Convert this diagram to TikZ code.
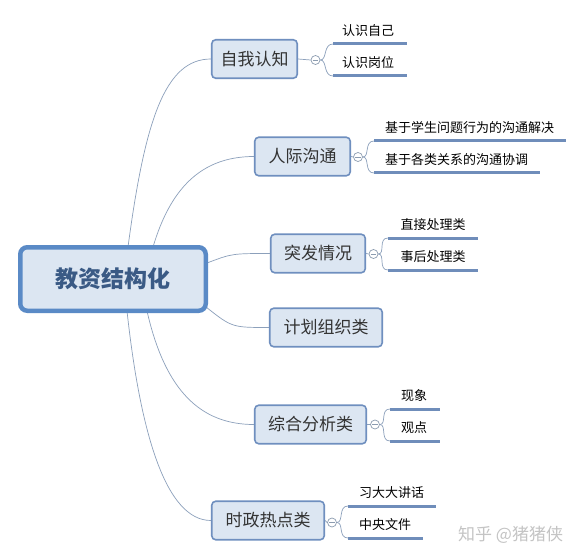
\documentclass[tikz,border=0pt]{standalone}
\usepackage{fontspec}
\setmainfont{Noto Sans CJK SC}
\definecolor{boxfill}{HTML}{DCE6F2}
\definecolor{brb}{HTML}{6F8FBF}
\definecolor{mainb}{HTML}{5A8AC6}
\definecolor{maintext}{HTML}{3A5A85}
\definecolor{ulc}{HTML}{6F8DBA}
\definecolor{connc}{HTML}{8CA0BB}
\definecolor{togc}{HTML}{8C9CB0}
\definecolor{wm}{HTML}{C4C4C4}
\definecolor{txt}{HTML}{333333}
\tikzset{
  mainbox/.style={draw=mainb, line width=4.5pt, fill=boxfill, rounded corners=7pt,
    minimum width=185.5pt, minimum height=63.5pt, inner sep=0pt,
    font=\fontsize{23}{23}\selectfont\bfseries, text=maintext},
  branch/.style={draw=brb, line width=1.6pt, fill=boxfill, rounded corners=4pt,
    minimum height=38.5pt, inner sep=0pt, font=\fontsize{17}{17}\selectfont, text=txt},
  subtext/.style={font=\fontsize{13}{13}\selectfont, text=black, inner sep=0pt},
  ul/.style={draw=ulc, line width=3pt},
  conn/.style={draw=connc, line width=0.7pt},
  tog/.style={circle, draw=togc, fill=white, minimum size=9pt, inner sep=0pt, line width=0.7pt},
  togminus/.style={draw=togc, line width=0.7pt}
}
\begin{document}
\begin{tikzpicture}[x=1pt,y=-1pt]
\useasboundingbox[fill=white] (0,0) rectangle (584,559);

% connector start points on the central box
\coordinate (s1) at (128,247);
\coordinate (s2) at (153,247);
\coordinate (s3) at (207,263);
\coordinate (s4) at (206,307);
\coordinate (s5) at (147,311);
\coordinate (s6) at (127,311);

% branch nodes
\node[branch, minimum width=85.5pt] (b1) at (254.5,59) {自我认知};
\node[branch, minimum width=95.5pt] (b2) at (302.5,156.5) {人际沟通};
\node[branch, minimum width=94.5pt] (b3) at (318,253.5) {突发情况};
\node[branch, minimum width=112.5pt] (b4) at (326,327.5) {计划组织类};
\node[branch, minimum width=111.5pt] (b5) at (310.5,424.5) {综合分析类};
\node[branch, minimum width=112.5pt] (b6) at (268,520.5) {时政热点类};

% main connectors
\draw[conn] (s1) .. controls (145,120) and (165,59) .. (b1.west);
\draw[conn] (s2) .. controls (170,190) and (200,156.5) .. (b2.west);
\draw[conn] (s3) .. controls (232,253.5) .. (b3.west);
\draw[conn] (s4) .. controls (232,327.5) .. (b4.west);
\draw[conn] (s5) .. controls (165,390) and (200,424.5) .. (b5.west);
\draw[conn] (s6) .. controls (140,430) and (165,520.5) .. (b6.west);

% central node
\node[mainbox] (c) at (113,279) {教资结构化};

% toggles
\node[tog] (t1) at (315.5,60) {};
\node[tog] (t2) at (358,157) {};
\node[tog] (t3) at (373.5,254) {};
\node[tog] (t5) at (375,424.5) {};
\node[tog] (t6) at (332,522.5) {};
\foreach \t in {t1,t2,t3,t5,t6}{
  \draw[togminus] ([xshift=-2.6pt]\t.center) -- ([xshift=2.6pt]\t.center);
}
\draw[conn] (b1.east) -- (t1.west);
\draw[conn] (b2.east) -- (t2.west);
\draw[conn] (b3.east) -- (t3.west);
\draw[conn] (b5.east) -- (t5.west);
\draw[conn] (b6.east) -- (t6.west);

% underline coordinates
\coordinate (u1a) at (333,44);   \coordinate (u1ae) at (407,44);
\coordinate (u1b) at (333,76);   \coordinate (u1be) at (407,76);
\coordinate (u2a) at (374,141);  \coordinate (u2ae) at (566,141);
\coordinate (u2b) at (374,173);  \coordinate (u2be) at (540,173);
\coordinate (u3a) at (388,238);  \coordinate (u3ae) at (478,238);
\coordinate (u3b) at (388,270);  \coordinate (u3be) at (478,270);
\coordinate (u5a) at (390,409);  \coordinate (u5ae) at (440,409);
\coordinate (u5b) at (390,441);  \coordinate (u5be) at (440,441);
\coordinate (u6a) at (348,506);  \coordinate (u6ae) at (436,506);
\coordinate (u6b) at (348,538);  \coordinate (u6be) at (423,538);

% bracket connectors
\foreach \t/\a/\b in {t1/u1a/u1b, t2/u2a/u2b, t3/u3a/u3b, t5/u5a/u5b, t6/u6a/u6b}{
  \draw[conn] (\t.east) .. controls ([xshift=7pt]\t.east) and ([xshift=-10pt]\a) .. (\a);
  \draw[conn] (\t.east) .. controls ([xshift=7pt]\t.east) and ([xshift=-10pt]\b) .. (\b);
}

% underlines
\draw[ul] (u1a) -- (u1ae);
\draw[ul] (u1b) -- (u1be);
\draw[ul] (u2a) -- (u2ae);
\draw[ul] (u2b) -- (u2be);
\draw[ul] (u3a) -- (u3ae);
\draw[ul] (u3b) -- (u3be);
\draw[ul] (u5a) -- (u5ae);
\draw[ul] (u5b) -- (u5be);
\draw[ul] (u6a) -- (u6ae);
\draw[ul] (u6b) -- (u6be);

% sub texts
\node[subtext] (n11) at (368,31) {认识自己};
\node[subtext] (n12) at (368,63) {认识岗位};
\node[subtext, anchor=west] (n21) at (385,128) {基于学生问题行为的沟通解决};
\node[subtext, anchor=west] (n22) at (385,160) {基于各类关系的沟通协调};
\node[subtext] (n31) at (433,225) {直接处理类};
\node[subtext] (n32) at (433,257) {事后处理类};
\node[subtext] (n51) at (414,396) {现象};
\node[subtext] (n52) at (414,428) {观点};
\node[subtext, anchor=west] (n61) at (359,493) {习大大讲话};
\node[subtext, anchor=west] (n62) at (359,525) {中央文件};

% watermark
\node[font=\fontsize{17}{17}\selectfont, text=wm, inner sep=0pt, anchor=west] (wm) at (458,535) {知乎 @猪猪侠};
\end{tikzpicture}
\end{document}
